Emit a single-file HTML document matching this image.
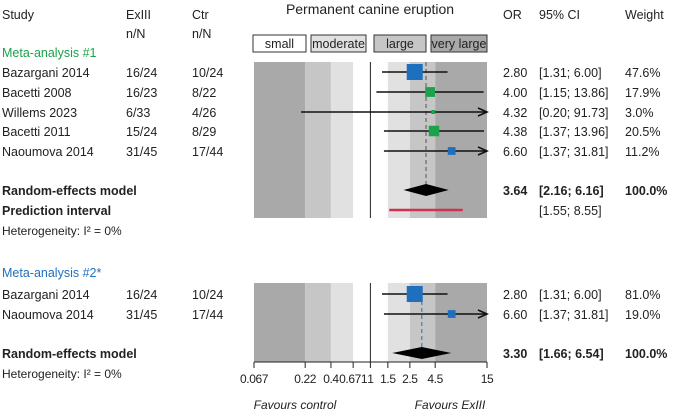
<!DOCTYPE html>
<html><head><meta charset="utf-8"><style>
body{margin:0;background:#fff;}
svg{display:block;font-family:"Liberation Sans Narrow","Liberation Sans",sans-serif;font-size:12.5px;fill:#222;}
.b{font-weight:bold;}
</style></head><body>
<svg id="c" width="685" height="414" viewBox="0 0 685 414"></svg>
<script>
const studies1=["Bazargani 2014","Bacetti 2008","Willems 2023","Bacetti 2011","Naoumova 2014"];
const exp1=["16/24","16/23","6/33","15/24","31/45"];
const ctr1=["10/24","8/22","4/26","8/29","17/44"];
const or1=[2.80,4.00,4.32,4.38,6.60];
const lo1=[1.31,1.15,0.20,1.37,1.37];
const hi1=[6.00,13.86,91.73,13.96,31.81];
const w1=[47.6,17.9,3.0,20.5,11.2];
const col1=["#1f6fbf","#1aa34a","#1aa34a","#1aa34a","#1f6fbf"];
const re1=[3.64,2.16,6.16];
const pi1=[1.55,8.55];
const studies2=["Bazargani 2014","Naoumova 2014"];
const exp2=["16/24","31/45"];
const ctr2=["10/24","17/44"];
const or2=[2.80,6.60];
const lo2=[1.31,1.37];
const hi2=[6.00,31.81];
const w2=[81.0,19.0];
const re2=[3.30,1.66,6.54];
const ticks=[0.067,0.22,0.4,0.67,1,1.5,2.5,4.5,15];
const tickLabels=["0.067","0.22","0.4","0.671","1","1.5","2.5","4.5","15"];
const bands=[[0.067,0.22,"#a9a9a9"],[0.22,0.4,"#c6c6c6"],[0.4,0.67,"#e1e1e1"],[0.67,1.5,"#ffffff"],[1.5,2.5,"#e1e1e1"],[2.5,4.5,"#c6c6c6"],[4.5,15,"#a9a9a9"]];

const X0=254,X1=487,LMIN=Math.log(0.067),LMAX=Math.log(15);
function x(v){v=Math.max(0.067,Math.min(15,v));return X0+(Math.log(v)-LMIN)/(LMAX-LMIN)*(X1-X0);}
const svg=document.getElementById('c');const NS="http://www.w3.org/2000/svg";
function el(t,a,p){const e=document.createElementNS(NS,t);for(const k in a)e.setAttribute(k,a[k]);(p||svg).appendChild(e);return e;}
function txt(s,xx,y,name,opt){const e=el('text',Object.assign({x:xx,y:y},opt||{}));e.textContent=s;


return e;}

txt("Permanent canine eruption",370,14,"chart-title",{"text-anchor":"middle","font-size":"14"});
txt("Study",2,19,"study-header");
txt("ExIII",126,19,"exp-header");txt("n/N",126,38,"exp-nn-header");
txt("Ctr",192,19,"ctr-header");txt("n/N",192,38,"ctr-nn-header");
txt("OR",503,19,"or-header");txt("95% CI",539,19,"ci-header");txt("Weight",625,19,"weight-header");
[["small",253,306,"#ffffff"],["moderate",311,366,"#e1e1e1"],["large",374,426,"#c6c6c6"],["very large",431,487,"#a9a9a9"]].forEach(b=>{
 const r=el('rect',{x:b[1],y:35,width:b[2]-b[1],height:17,fill:b[3],stroke:"#333","stroke-width":1});
 
 
 txt(b[0],(b[1]+b[2])/2,48,'legend-label-'+b[0].replace(' ','-'),{"text-anchor":"middle"});
});

function panel(y0,y1,name){
 bands.forEach(b=>{const r=el('rect',{x:x(b[0]),y:y0,width:x(b[1])-x(b[0]),height:y1-y0,fill:b[2]});
 
 });
 const l=el('line',{x1:x(1),x2:x(1),y1:y0,y2:y1,stroke:"#222","stroke-width":1});
 
 
}
function study(i,y,o,lo,hi,w,c,name,wmax){
 const a=x(lo),b=x(hi);
 const ln=el('line',{x1:a,x2:b,y1:y,y2:y,stroke:"#111","stroke-width":1.6});
 
 
 if(hi>15){const p=el('path',{d:`M${b-9},${y-4} L${b},${y} L${b-9},${y+4}`,fill:"none",stroke:"#111","stroke-width":1.6});
 
 }
 const s=Math.max(4,16*Math.sqrt(w/wmax));
 const r=el('rect',{x:x(o)-s/2,y:y-s/2,width:s,height:s,fill:c});
 
 
}
function diamond(y,v,name){const d=el('path',{d:`M${x(v[1])},${y} L${x(v[0])},${y-6} L${x(v[2])},${y} L${x(v[0])},${y+6}Z`,fill:"#000"});
 
 }
function f2(v){return v.toFixed(2);}

panel(62,218,'panel1');
const ys1=[72,92,112,131,151];
el('line',{x1:x(re1[0]),x2:x(re1[0]),y1:62,y2:190,stroke:"#555","stroke-dasharray":"4,3"});
txt("Meta-analysis #1",2,57,"group1-label",{fill:"#1aa34a"});
studies1.forEach((s,i)=>{const y=ys1[i];
 study(i,y,or1[i],lo1[i],hi1[i],w1[i],col1[i],'study1-'+i,w1[0]);
 txt(s,2,y+5,'study1-name-'+i);txt(exp1[i],126,y+5,'study1-exp-'+i);txt(ctr1[i],192,y+5,'study1-ctr-'+i);
 txt(f2(or1[i]),503,y+5,'study1-or-'+i);txt(`[${f2(lo1[i])}; ${f2(hi1[i])}]`,539,y+5,'study1-ci-'+i);txt(w1[i].toFixed(1)+"%",625,y+5,'study1-weight-'+i);
});
diamond(190,re1,'re-diamond-1');
const pl=el('line',{x1:x(pi1[0]),x2:x(pi1[1]),y1:210,y2:210,stroke:"#d0314f","stroke-width":2.5});


txt("Random-effects model",2,195,"re-label-1",{class:"b"});
txt("Prediction interval",2,215,"pi-label",{class:"b"});
txt("Heterogeneity: I² = 0%",2,235,"het-1",{"font-size":"12"});
txt(f2(re1[0]),503,195,"re-or-1",{class:"b"});txt(`[${f2(re1[1])}; ${f2(re1[2])}]`,539,195,"re-ci-1",{class:"b"});txt("100.0%",625,195,"re-weight-1",{class:"b"});
txt(`[${f2(pi1[0])}; ${f2(pi1[1])}]`,539,215,"pi-ci");

panel(283,362,'panel2');
const ys2=[294,314];
el('line',{x1:x(re2[0]),x2:x(re2[0]),y1:294,y2:353,stroke:"#1f6fbf","stroke-dasharray":"4,3"});
txt("Meta-analysis #2*",2,277,"group2-label",{fill:"#1f6fbf"});
studies2.forEach((s,i)=>{const y=ys2[i];
 study(i,y,or2[i],lo2[i],hi2[i],w2[i],"#1f6fbf",'study2-'+i,w2[0]);
 txt(s,2,y+5,'study2-name-'+i);txt(exp2[i],126,y+5,'study2-exp-'+i);txt(ctr2[i],192,y+5,'study2-ctr-'+i);
 txt(f2(or2[i]),503,y+5,'study2-or-'+i);txt(`[${f2(lo2[i])}; ${f2(hi2[i])}]`,539,y+5,'study2-ci-'+i);txt(w2[i].toFixed(1)+"%",625,y+5,'study2-weight-'+i);
});
diamond(353,re2,'re-diamond-2');
txt("Random-effects model",2,358,"re-label-2",{class:"b"});
txt("Heterogeneity: I² = 0%",2,378,"het-2",{"font-size":"12"});
txt(f2(re2[0]),503,358,"re-or-2",{class:"b"});txt(`[${f2(re2[1])}; ${f2(re2[2])}]`,539,358,"re-ci-2",{class:"b"});txt("100.0%",625,358,"re-weight-2",{class:"b"});

const ax=el('line',{x1:X0,x2:X1,y1:362,y2:362,stroke:"#222"});


ticks.forEach((t,i)=>{el('line',{x1:x(t),x2:x(t),y1:362,y2:368,stroke:"#222"});
 txt(tickLabels[i],x(t),383,'x-tick-label-'+i,{"text-anchor":"middle","font-size":"12","letter-spacing":"-0.4"});});
txt("Favours control",295,409,"favours-control",{"text-anchor":"middle","font-style":"italic","font-size":"12"});
txt("Favours ExIII",450,409,"favours-exiii",{"text-anchor":"middle","font-style":"italic","font-size":"12"});
</script>
</body></html>
